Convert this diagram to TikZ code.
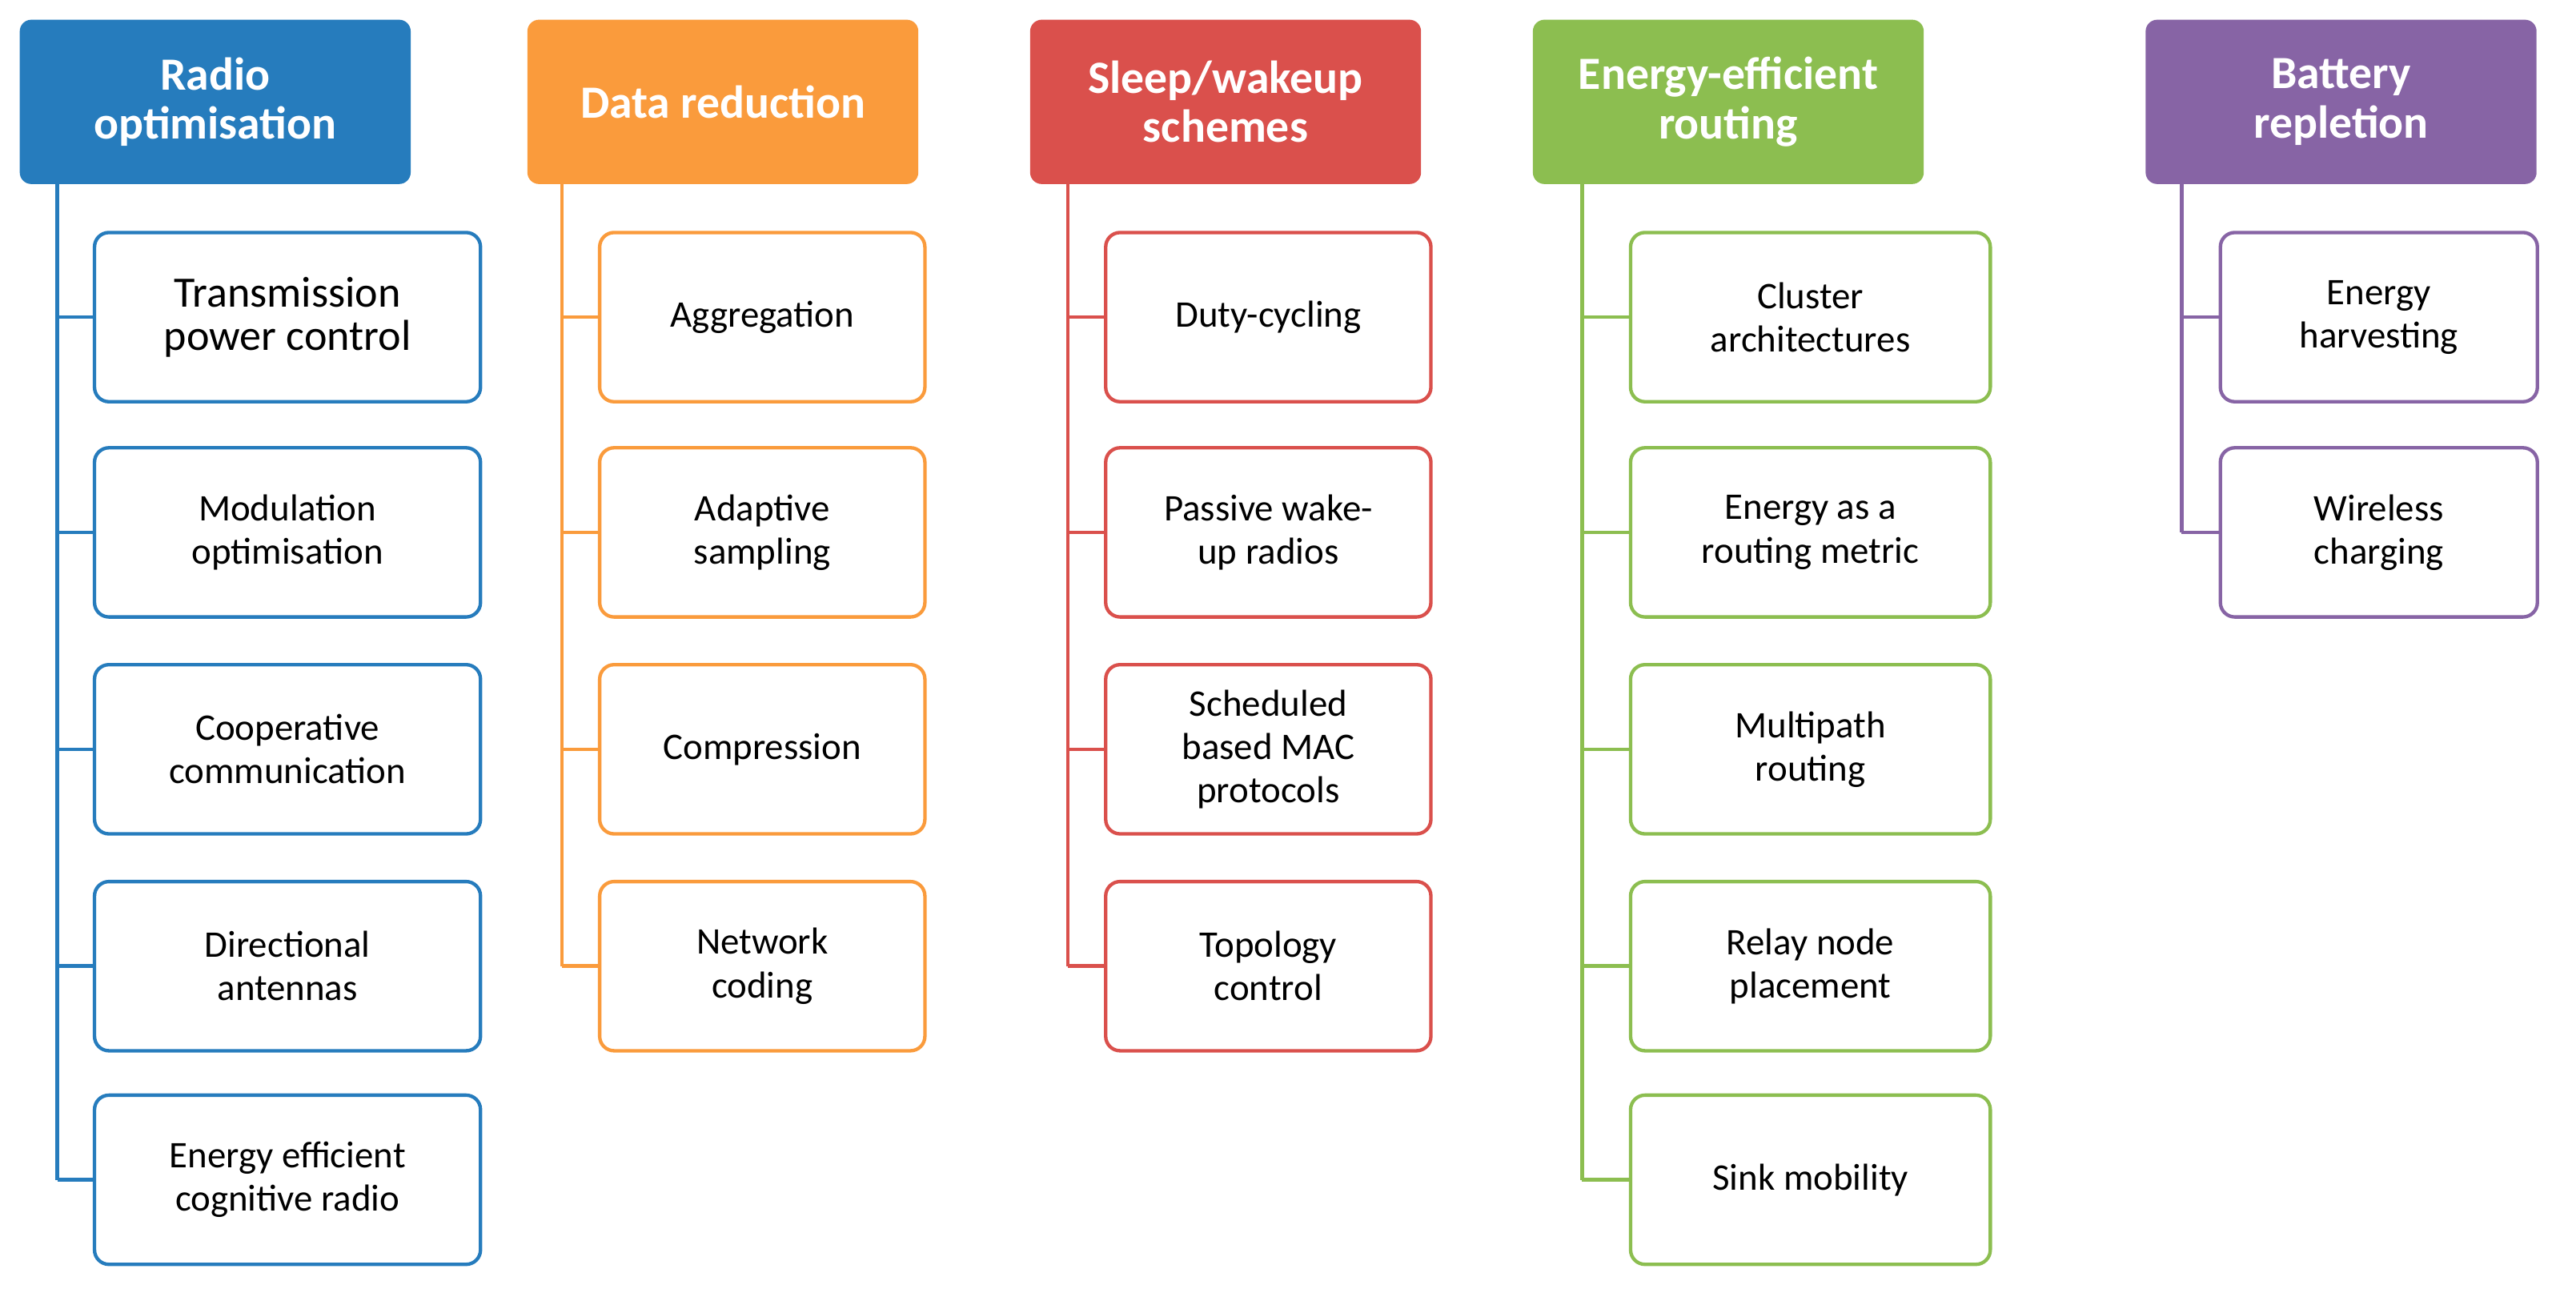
\documentclass[tikz,border=0pt]{standalone}
\usepackage{fontspec}
\setmainfont{Carlito}
\definecolor{radioBlue}{RGB}{38,124,189}
\definecolor{dataOrange}{RGB}{250,155,60}
\definecolor{sleepRed}{RGB}{218,80,76}
\definecolor{routeGreen}{RGB}{140,190,80}
\definecolor{battPurple}{RGB}{135,100,165}
\begin{document}
\begin{tikzpicture}[x=0.02cm, y=-0.02cm]
\tikzstyle{head} = [rectangle, rounded corners=4pt, text=white, font=\fontsize{16}{17}\selectfont\bfseries, align=center, minimum width=4.76cm, minimum height=2cm, inner sep=1pt]
\tikzstyle{item} = [rectangle, rounded corners=5pt, draw, line width=1.2pt, fill=white, font=\fontsize{13}{15}\selectfont, align=center, minimum height=2.06cm, inner sep=2pt]
\tikzstyle{trunk} = [line width=1.3pt]
\useasboundingbox (0,0) rectangle (1568,784);

% headers
\node[head, fill=radioBlue] (radio) at (131,62) {Radio\\optimisation};
\node[head, fill=dataOrange] (data) at (440,62) {Data reduction};
\node[head, fill=sleepRed] (sleep) at (746,62) {Sleep/wakeup\\schemes};
\node[head, fill=routeGreen] (route) at (1052,62) {Energy-efficient\\routing};
\node[head, fill=battPurple] (batt) at (1425,62) {Battery\\repletion};

% trunk points
\coordinate (rt) at (35,112); \coordinate (dt) at (342,112);
\coordinate (st) at (650,112); \coordinate (et) at (963,112);
\coordinate (bt) at (1328,112);

% radio column
\foreach \n/\y/\t in {r1/193/{\fontsize{15}{18}\selectfont Transmission\\ \fontsize{15}{18}\selectfont power control}, r2/324/Modulation\\optimisation, r3/456/Cooperative\\communication, r4/588/Directional\\antennas, r5/718/Energy efficient\\cognitive radio}{
  \node[item, draw=radioBlue, minimum width=4.7cm] (\n) at (175,\y) {\t};
  \draw[trunk, radioBlue] (\n.west) -- (rt |- \n.west);
}
\draw[trunk, radioBlue] (rt) -- (rt |- r5.west);

% data column
\foreach \n/\y/\t in {d1/193/Aggregation, d2/324/Adaptive\\sampling, d3/456/Compression, d4/588/Network\\coding}{
  \node[item, draw=dataOrange, minimum width=3.96cm] (\n) at (464,\y) {\t};
  \draw[trunk, dataOrange] (\n.west) -- (dt |- \n.west);
}
\draw[trunk, dataOrange] (dt) -- (dt |- d4.west);

% sleep column
\foreach \n/\y/\t in {s1/193/Duty-cycling, s2/324/Passive wake-\\up radios, s3/456/Scheduled\\based MAC\\protocols, s4/588/Topology\\control}{
  \node[item, draw=sleepRed, minimum width=3.96cm] (\n) at (772,\y) {\t};
  \draw[trunk, sleepRed] (\n.west) -- (st |- \n.west);
}
\draw[trunk, sleepRed] (st) -- (st |- s4.west);

% routing column
\foreach \n/\y/\t in {e1/193/Cluster\\architectures, e2/324/Energy as a\\routing metric, e3/456/Multipath\\routing, e4/588/Relay node\\placement, e5/718/Sink mobility}{
  \node[item, draw=routeGreen, minimum width=4.38cm] (\n) at (1102,\y) {\t};
  \draw[trunk, routeGreen] (\n.west) -- (et |- \n.west);
}
\draw[trunk, routeGreen] (et) -- (et |- e5.west);

% battery column
\foreach \n/\y/\t in {b1/193/Energy\\harvesting, b2/324/Wireless\\charging}{
  \node[item, draw=battPurple, minimum width=3.86cm] (\n) at (1448,\y) {\t};
  \draw[trunk, battPurple] (\n.west) -- (bt |- \n.west);
}
\draw[trunk, battPurple] (bt) -- (bt |- b2.west);
\end{tikzpicture}
\end{document}
